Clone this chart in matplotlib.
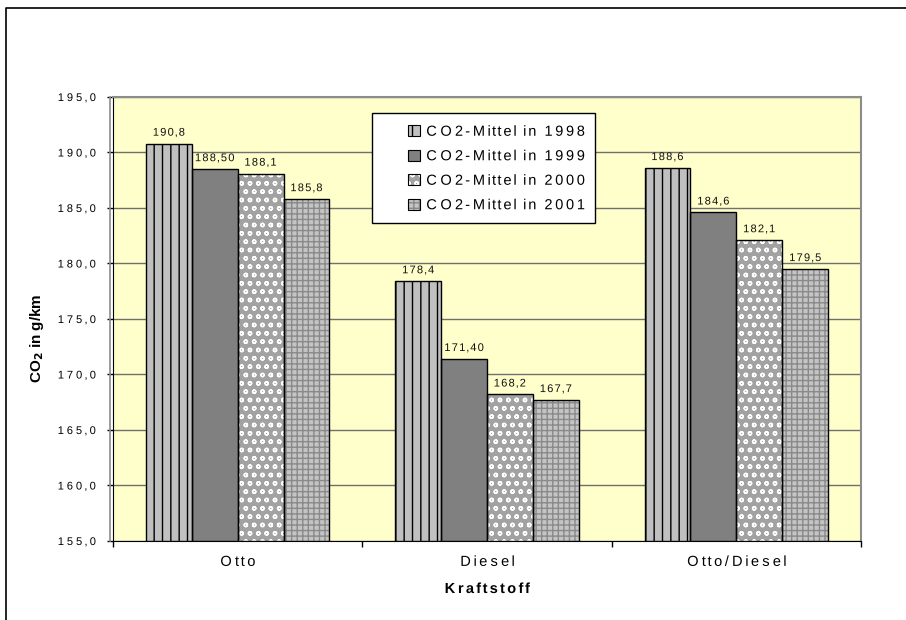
import matplotlib
matplotlib.use("Agg")
import matplotlib.pyplot as plt
import numpy as np
from matplotlib.lines import Line2D
from matplotlib.patches import Rectangle
from matplotlib.path import Path
from matplotlib.patheffects import AbstractPathEffect

plt.rcParams['font.family'] = ['Liberation Sans', 'DejaVu Sans']
plt.rcParams['hatch.linewidth'] = 1.0

categories = ["Otto", "Diesel", "Otto/Diesel"]
series_names = ["CO2-Mittel in 1998", "CO2-Mittel in 1999",
                "CO2-Mittel in 2000", "CO2-Mittel in 2001"]
values_1998 = [190.8, 178.4, 188.6]
values_1999 = [188.5, 171.4, 184.6]
values_2000 = [188.1, 168.2, 182.1]
values_2001 = [185.8, 167.7, 179.5]
# decimal places shown in each value label
decimals_1998 = [1, 1, 1]
decimals_1999 = [2, 2, 1]
decimals_2000 = [1, 1, 1]
decimals_2001 = [1, 1, 1]
y_ticks = [155, 160, 165, 170, 175, 180, 185, 190, 195]

series = [values_1998, values_1999, values_2000, values_2001]
decimals = [decimals_1998, decimals_1999, decimals_2000, decimals_2001]
styles = [
    dict(face="#C0C0C0", hatch="||", hcolor="#000000"),
    dict(face="#808080", hatch=None, hcolor="#808080"),
    dict(face="#A2A2A2", hatch="oo", hcolor="#FFFFFF"),
    dict(face="#C4C4C4", hatch="+++", hcolor="#8A8A8A"),
]


class Tracking(AbstractPathEffect):
    """Spread the glyphs of a text apart (letter spacing)."""

    def __init__(self, factor, anchor="center"):
        super().__init__()
        self.factor = factor
        self.anchor = anchor

    def draw_path(self, renderer, gc, tpath, affine, rgbFace=None):
        verts = np.array(tpath.vertices, dtype=float)
        codes = tpath.codes
        if codes is None or len(verts) == 0:
            renderer.draw_path(gc, tpath, affine, rgbFace)
            return
        real = codes != Path.CLOSEPOLY
        xs = verts[real, 0]
        xmin, xmax = xs.min(), xs.max()
        x0 = {"left": xmin, "center": 0.5 * (xmin + xmax), "right": xmax}[self.anchor]
        starts = list(np.flatnonzero(codes == Path.MOVETO)) + [len(verts)]
        for s, e in zip(starts[:-1], starts[1:]):
            m = real[s:e]
            seg = verts[s:e, 0][m]
            if len(seg) == 0:
                continue
            cx = 0.5 * (seg.min() + seg.max())
            verts[s:e, 0] += (self.factor - 1.0) * (cx - x0)
        renderer.draw_path(gc, Path(verts, codes), affine, rgbFace)


W, H = 906, 620
fig = plt.figure(figsize=(W / 100, H / 100), dpi=100)
L, R, T, B = 113, 861, 97, 541
ax = fig.add_axes([L / W, 1 - B / H, (R - L) / W, (B - T) / H])
ax.set_facecolor("#FFFFCC")


def ax_x(px):
    return (px - L) / (R - L)


def ax_y(py):
    return (B - py) / (B - T)


base = 155.0
width = 0.184
x = np.arange(len(categories))
offsets = (np.arange(4) - 1.5) * width

for i, (vals, st) in enumerate(zip(series, styles)):
    heights = [v - base for v in vals]
    ax.bar(x + offsets[i], heights, width, bottom=base, color=st["face"],
           edgecolor=st["hcolor"], hatch=st["hatch"], linewidth=0, zorder=3)
    ax.bar(x + offsets[i], heights, width, bottom=base, fill=False,
           edgecolor="black", linewidth=1.0, zorder=4)
    for xi, v, d in zip(x + offsets[i], vals, decimals[i]):
        label = f"{v:.{d}f}".replace(".", ",")
        t = ax.annotate(label, (xi, v), xytext=(0, 4.3), textcoords="offset points",
                        ha="center", va="bottom", fontsize=8, color="#111111",
                        zorder=5)
        t.set_path_effects([Tracking(1.2, "center")])

ax.set_xlim(-0.5, 2.5)
ax.set_ylim(155, 195)
ax.set_yticks(y_ticks)
ax.set_yticklabels([f"{t:.1f}".replace(".", ",") for t in y_ticks], fontsize=8)
ax.yaxis.grid(True, color="#707070", linewidth=1.0, zorder=1)
ax.set_axisbelow(True)

ax.set_xticks(np.arange(-0.5, 3, 1.0))
ax.set_xticklabels([])
ax.set_xticks(x, minor=True)
ax.set_xticklabels(categories, minor=True, fontsize=10.5)
ax.tick_params(axis="x", which="minor", length=0, pad=10)
ax.tick_params(axis="x", which="major", length=4.5, direction="out", width=1)
ax.tick_params(axis="y", length=4, direction="out", width=1, pad=7.5)

for lab in ax.get_yticklabels():
    lab.set_path_effects([Tracking(1.48, "right")])
for lab in ax.get_xticklabels(minor=True):
    lab.set_path_effects([Tracking(1.42, "center")])

for side in ["top", "right"]:
    ax.spines[side].set_color("#8C8C8C")
    ax.spines[side].set_linewidth(1.5)
ax.spines["left"].set_color("black")
ax.spines["bottom"].set_color("black")

ax.set_ylabel("CO$_\\mathbf{2}$ in g/km", fontsize=11, fontweight="bold")
ax.yaxis.set_label_coords(ax_x(46), ax_y(338))
xl = ax.set_xlabel("Kraftstoff", fontsize=10.5, fontweight="bold")
xl.set_va("top")
ax.xaxis.set_label_coords(0.5, ax_y(582))
xl.set_path_effects([Tracking(1.34, "center")])

# gray plot-area border left of the value axis
fig.add_artist(Line2D([110 / W, 110 / W], [1 - B / H, 1 - T / H],
                      color="#8C8C8C", linewidth=1.2, transform=fig.transFigure))

# legend: patterned swatches with black outline
handles = []
for st in styles:
    fill = Rectangle((0, 0), 1, 1, facecolor=st["face"], edgecolor=st["hcolor"],
                     hatch=st["hatch"], linewidth=0)
    outline = Rectangle((0, 0), 1, 1, fill=False, edgecolor="black", linewidth=0.8)
    handles.append((fill, outline))
leg_fs = 10.5
leg = ax.legend(handles, series_names, loc="center left",
                bbox_to_anchor=(ax_x(408), ax_y(168.5)),
                fontsize=leg_fs, frameon=False, handlelength=0.8, handleheight=0.75,
                handletextpad=0.35, labelspacing=0.72, borderpad=0,
                borderaxespad=0)
for txt in leg.get_texts():
    txt.set_path_effects([Tracking(1.33, "left")])
leg.set_zorder(7)
ax.add_patch(Rectangle((ax_x(372), ax_y(223)), ax_x(595) - ax_x(372),
                       ax_y(113) - ax_y(223), transform=ax.transAxes,
                       facecolor="white", edgecolor="black", linewidth=1.0,
                       zorder=6, clip_on=False))

# chart frame on left and top
fig.add_artist(Line2D([6 / W, 6 / W, 1.0], [0.0, 1 - 8 / H, 1 - 8 / H],
                      color="black", linewidth=1.2, transform=fig.transFigure))

fig.savefig("out.png", dpi=100, facecolor="white")
